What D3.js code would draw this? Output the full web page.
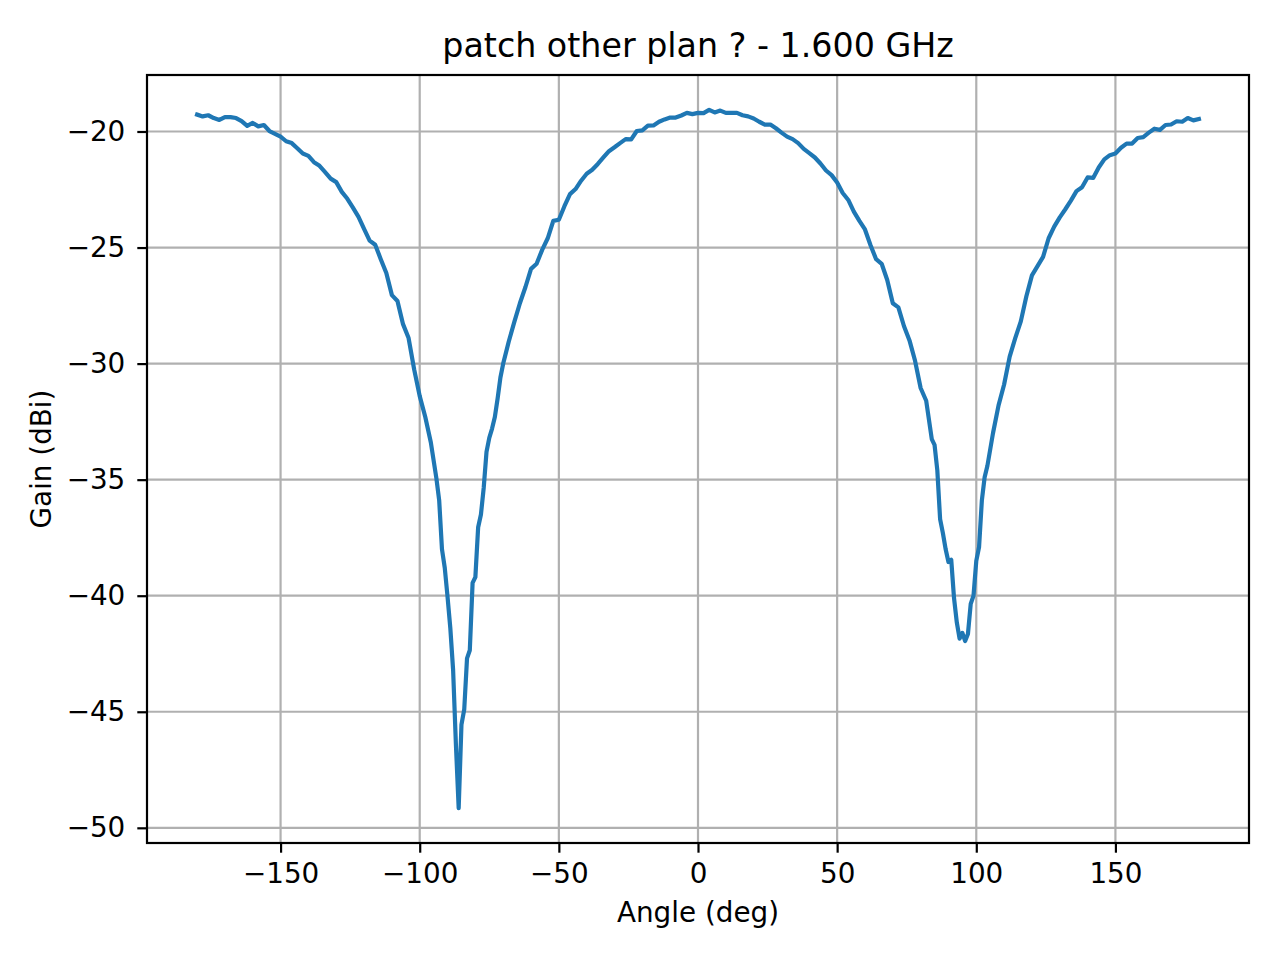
<!DOCTYPE html>
<html>
<head>
<meta charset="utf-8">
<script src="https://cdn.jsdelivr.net/npm/d3@7"></script>
<style>
body { margin: 0; background: #fff; }
svg text { font-family: "DejaVu Sans", sans-serif; fill: #000; }
</style>
</head>
<body>
<svg id="chart" width="1280" height="960"></svg>
<script>
// measured gain pattern, 2 deg steps, 1 deg steps inside the two nulls
var angles = [
  -180,-178,-176,-174,-172,-170,-168,-166,-164,-162,-160,-158,-156,-154,-152,-150,
  -148,-146,-144,-142,-140,-138,-136,-134,-132,-130,-128,-126,-124,-122,-120,-118,
  -116,-114,-112,-110,-108,-106,-104,-102,-100,-98,-96,
  -94,-93,-92,-91,-90,-89,-88,-87,-86,-85,-84,-83,-82,-81,-80,-79,
  -78,-77,-76,-75,-74,-73,-72,-71,-70,
  -68,-66,-64,-62,-60,-58,-56,-54,
  -52,-50,-48,-46,-44,-42,-40,-38,-36,-34,-32,-30,-28,-26,-24,-22,
  -20,-18,-16,-14,-12,-10,-8,-6,-4,-2,0,2,4,6,8,10,
  12,14,16,18,20,22,24,26,28,30,32,34,36,38,40,42,
  44,46,48,50,52,54,56,58,60,62,64,66,68,70,72,74,
  76,78,80,82,
  84,85,86,87,88,89,90,91,92,93,94,95,96,97,98,99,100,101,102,103,104,
  106,108,110,112,114,116,118,120,122,124,126,128,130,132,134,136,138,
  140,142,144,146,148,150,152,154,156,158,160,162,164,166,168,170,
  172,174,176,178,180
];
var gain = [
  -19.27,-19.35,-19.30,-19.42,-19.50,-19.38,-19.38,-19.42,-19.55,-19.76,-19.63,-19.78,-19.72,-19.98,-20.10,-20.22,
  -20.42,-20.50,-20.72,-20.95,-21.05,-21.32,-21.48,-21.75,-22.03,-22.18,-22.60,-22.90,-23.28,-23.68,-24.20,-24.70,
  -24.88,-25.50,-26.10,-27.05,-27.30,-28.30,-28.90,-30.25,-31.40,-32.30,-33.40,
  -34.95,-35.90,-38.00,-38.80,-40.05,-41.40,-43.20,-46.40,-49.15,-45.55,-44.90,-42.70,-42.35,-39.45,-39.20,-37.05,
  -36.50,-35.35,-33.80,-33.20,-32.80,-32.30,-31.50,-30.60,-30.00,
  -29.05,-28.20,-27.40,-26.70,-25.92,-25.70,-25.10,-24.60,
  -23.85,-23.80,-23.22,-22.70,-22.48,-22.12,-21.82,-21.65,-21.40,-21.12,-20.85,-20.68,-20.50,-20.33,-20.34,-19.98,
  -19.95,-19.75,-19.74,-19.58,-19.48,-19.40,-19.40,-19.31,-19.20,-19.25,-19.20,-19.21,-19.07,-19.18,-19.10,-19.20,
  -19.20,-19.20,-19.30,-19.35,-19.44,-19.58,-19.70,-19.70,-19.86,-20.05,-20.22,-20.33,-20.50,-20.75,-20.93,-21.12,
  -21.38,-21.68,-21.88,-22.20,-22.65,-22.95,-23.45,-23.85,-24.22,-24.90,-25.50,-25.70,-26.40,-27.40,-27.58,-28.38,
  -29.00,-29.88,-31.05,-31.60,
  -33.25,-33.50,-34.60,-36.70,-37.30,-38.00,-38.55,-38.45,-40.10,-41.15,-41.85,-41.60,-41.95,-41.65,-40.35,-40.00,-38.50,-37.90,-35.90,-34.90,-34.40,
  -33.00,-31.80,-30.90,-29.70,-28.90,-28.18,-27.10,-26.20,-25.80,-25.40,-24.60,-24.10,-23.70,-23.35,-22.98,-22.57,-22.40,
  -21.98,-22.00,-21.55,-21.20,-21.02,-20.95,-20.70,-20.52,-20.52,-20.28,-20.24,-20.05,-19.88,-19.93,-19.72,-19.70,
  -19.56,-19.58,-19.42,-19.52,-19.46
];
var xTicks = [-150, -100, -50, 0, 50, 100, 150];
var yTicks = [-50, -45, -40, -35, -30, -25, -20];
var titleText = "patch other plan ? - 1.600 GHz";
var xLabel = "Angle (deg)";
var yLabel = "Gain (dBi)";

var margin = { top: 75, right: 31, bottom: 117, left: 147 };
var width = 1280 - margin.left - margin.right;
var height = 960 - margin.top - margin.bottom;

var points = angles.map(function(a, i) { return { angle: a, gain: gain[i] }; });

// matplotlib-like 5% padding around the data
var xExt = d3.extent(angles), yExt = d3.extent(gain);
var xPad = (xExt[1] - xExt[0]) * 0.05, yPad = (yExt[1] - yExt[0]) * 0.05;

var x = d3.scaleLinear().domain([xExt[0] - xPad, xExt[1] + xPad]).range([0, width]);
var y = d3.scaleLinear().domain([yExt[0] - yPad, yExt[1] + yPad]).range([height, 0]);

var svg = d3.select("#chart");
svg.append("rect").attr("width", 1280).attr("height", 960).attr("fill", "#fff");

var g = svg.append("g")
  .attr("transform", "translate(" + margin.left + "," + margin.top + ")");

// grid
g.append("g").selectAll("line")
  .data(xTicks)
  .enter().append("line")
  .attr("x1", function(d) { return x(d); })
  .attr("x2", function(d) { return x(d); })
  .attr("y1", 0).attr("y2", height)
  .attr("stroke", "#b0b0b0").attr("stroke-width", 2.2);

g.append("g").selectAll("line")
  .data(yTicks)
  .enter().append("line")
  .attr("y1", function(d) { return y(d); })
  .attr("y2", function(d) { return y(d); })
  .attr("x1", 0).attr("x2", width)
  .attr("stroke", "#b0b0b0").attr("stroke-width", 2.2);

var line = d3.line()
  .x(function(d) { return x(d.angle); })
  .y(function(d) { return y(d.gain); });

g.append("path")
  .datum(points)
  .attr("d", line)
  .attr("fill", "none")
  .attr("stroke", "#1f77b4")
  .attr("stroke-width", 4.2)
  .attr("stroke-linejoin", "round")
  .attr("stroke-linecap", "square");

// axes
var xAxis = g.append("g")
  .attr("transform", "translate(0," + height + ")")
  .call(d3.axisBottom(x).tickValues(xTicks).tickFormat(d3.format("d")).tickSize(9.7).tickPadding(11));

var yAxis = g.append("g")
  .call(d3.axisLeft(y).tickValues(yTicks).tickFormat(d3.format("d")).tickSize(9.7).tickPadding(12));

[xAxis, yAxis].forEach(function(ax) {
  ax.select(".domain").remove();
  ax.selectAll(".tick line").attr("stroke", "#000").attr("stroke-width", 2.2);
  ax.selectAll(".tick text")
    .style("font-family", "'DejaVu Sans', sans-serif")
    .style("font-size", "27.8px")
    .attr("fill", "#000");
});

g.append("rect")
  .attr("width", width).attr("height", height)
  .attr("fill", "none").attr("stroke", "#000").attr("stroke-width", 2.2);

g.append("text")
  .attr("x", width / 2).attr("y", -18)
  .attr("text-anchor", "middle")
  .style("font-size", "33.3px")
  .text(titleText);

g.append("text")
  .attr("x", width / 2).attr("y", height + 79)
  .attr("text-anchor", "middle")
  .style("font-size", "27.8px")
  .text(xLabel);

g.append("text")
  .attr("transform", "translate(-96," + (height / 2) + ") rotate(-90)")
  .attr("text-anchor", "middle")
  .style("font-size", "27.8px")
  .text(yLabel);
</script>
</body>
</html>
